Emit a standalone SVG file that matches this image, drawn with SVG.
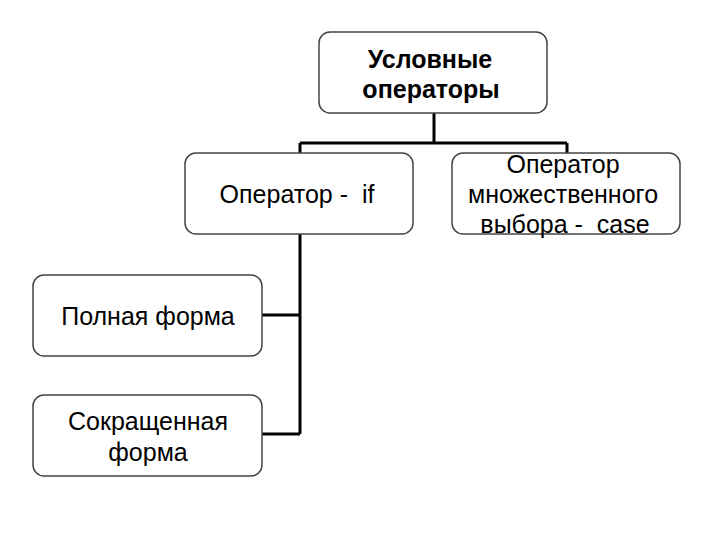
<svg xmlns="http://www.w3.org/2000/svg" width="720" height="540" viewBox="0 0 720 540">
<style>
.box{fill:#fff;stroke:#444;stroke-width:1.5}
.t{font-family:"Liberation Sans",Arial,sans-serif;font-size:25px;fill:#000;text-anchor:middle}
.b{font-weight:bold}
.c{fill:none;stroke:#000;stroke-width:3}
</style>
<rect width="720" height="540" fill="#fff"/>
<g id="connectors">
<path class="c" d="M434 113V143M300 143H567M300 143V153M567 143V153"/>
<path class="c" d="M300 234V434M262 315H300M262 434H300"/>
</g>
<g id="n1"><rect class="box" x="319" y="32" width="228" height="81" rx="11"/>
<text class="t b" x="430" y="68">Условные</text><text class="t b" x="431" y="98">операторы</text></g>
<g id="n2"><rect class="box" x="185" y="153" width="228" height="81" rx="11"/>
<text class="t" x="297" y="203" xml:space="preserve">Оператор -  if</text></g>
<g id="n3"><rect class="box" x="452" y="153" width="228" height="81" rx="11"/>
<text class="t" x="563" y="173">Оператор</text><text class="t" x="563" y="203">множественного</text><text class="t" x="565" y="233" xml:space="preserve">выбора -  case</text></g>
<g id="n4"><rect class="box" x="33" y="275" width="229" height="81" rx="11"/>
<text class="t" x="148" y="325">Полная форма</text></g>
<g id="n5"><rect class="box" x="33" y="395" width="229" height="81" rx="11"/>
<text class="t" x="148" y="430">Сокращенная</text><text class="t" x="148" y="461">форма</text></g>
</svg>
